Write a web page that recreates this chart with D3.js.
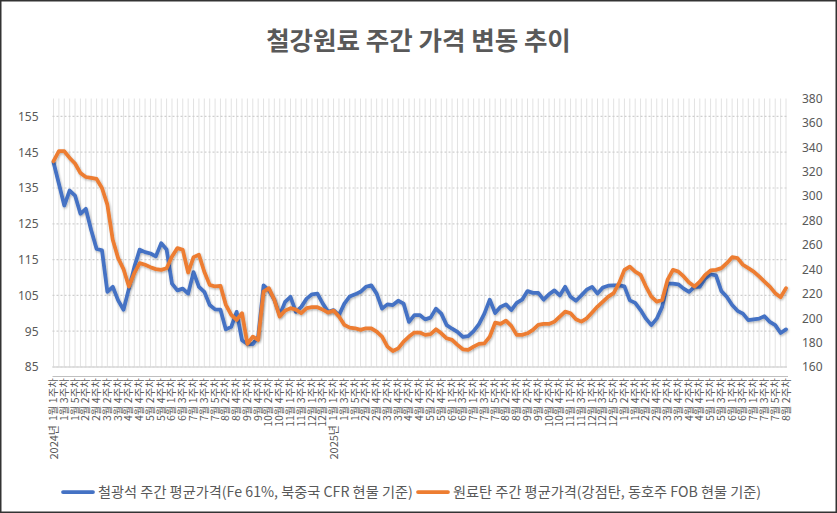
<!DOCTYPE html>
<html>
<head>
<meta charset="utf-8">
<script src="https://cdn.jsdelivr.net/npm/d3@7"></script>
<style>
body { margin: 0; background: #fff; }
text { font-family: "Noto Sans CJK KR", "Noto Sans", sans-serif; fill: #595959; }
</style>
</head>
<body>
<div id="viz"></div>
<script>
var width = 837;
var height = 513;

// weeks per month, by year (2026 runs to Aug 2nd week)
var years = ["2024년", "2025년", ""];
var monthWeeks = [
	[5, 4, 4, 4, 5, 4, 5, 4, 4, 5, 4, 4],
	[5, 4, 4, 4, 5, 4, 5, 4, 4, 5, 4, 5],
	[4, 4, 4, 5, 4, 4, 5, 2]
];

// 철광석 (left axis)
var ironOre = [
	142.2, 136.2, 130.1, 134.3, 132.9, 127.8, 129.2, 123.2, 118.0, 117.6,
	106.0, 107.4, 103.6, 101.0, 106.9, 112.9, 117.8, 117.1, 116.7, 115.9,
	119.6, 117.8, 108.3, 106.4, 106.9, 105.5, 111.5, 107.4, 106.0, 102.3,
	101.1, 101.0, 95.5, 96.2, 100.4, 92.5, 91.4, 91.4, 93.4, 107.8,
	106.4, 103.8, 99.5, 103.2, 104.6, 100.4, 101.8, 104.1, 105.3, 105.5,
	102.7, 100.4, 100.9, 99.5, 102.7, 104.7, 105.3, 106.0, 107.4, 107.8,
	105.5, 101.3, 102.5, 102.3, 103.5, 102.7, 97.6, 99.5, 99.5, 98.3,
	98.8, 101.3, 99.9, 96.7, 95.7, 94.8, 93.4, 93.6, 95.0, 97.0,
	99.9, 103.8, 100.1, 101.8, 102.5, 100.9, 102.9, 103.8, 106.2, 105.7,
	105.7, 103.8, 105.3, 106.4, 105.0, 107.4, 104.6, 103.5, 105.0, 106.6,
	107.4, 105.5, 107.2, 107.7, 107.8, 107.8, 107.5, 103.6, 102.9, 100.9,
	98.5, 96.7, 98.5, 101.8, 108.3, 108.3, 108.1, 106.9, 106.0, 107.4,
	107.4, 109.7, 110.9, 110.6, 106.2, 104.6, 102.3, 100.7, 99.9, 98.1,
	98.3, 98.5, 99.2, 97.6, 96.7, 94.5, 95.5
];

// 원료탄 (right axis)
var cokingCoal = [
	328.6, 336.8, 336.8, 331.3, 326.7, 319.0, 315.7, 314.9, 314.1, 306.7,
	293.0, 264.3, 249.2, 240.2, 225.9, 236.9, 245.1, 243.8, 241.8, 240.2,
	239.6, 240.9, 250.6, 257.4, 256.0, 237.4, 250.0, 252.0, 238.0, 227.3,
	226.0, 226.5, 210.9, 202.7, 198.6, 204.1, 178.9, 184.9, 182.2, 221.8,
	224.6, 215.0, 201.3, 206.2, 208.2, 207.0, 204.1, 208.2, 209.0, 209.0,
	207.0, 204.6, 206.2, 201.3, 194.5, 192.3, 191.7, 190.4, 191.7, 191.7,
	189.0, 184.9, 176.7, 173.1, 175.3, 180.8, 184.9, 188.2, 188.2, 186.3,
	187.0, 190.9, 187.6, 183.5, 182.2, 178.1, 174.5, 174.0, 176.7, 178.9,
	179.4, 184.9, 196.4, 195.3, 198.0, 193.7, 186.3, 186.3, 187.6, 190.4,
	194.5, 195.3, 195.3, 197.2, 201.3, 205.4, 204.1, 199.1, 197.2, 199.9,
	204.6, 209.5, 213.6, 217.7, 220.5, 228.7, 239.6, 242.3, 238.2, 235.5,
	225.9, 217.7, 213.6, 214.9, 231.4, 239.6, 238.2, 234.2, 229.3, 225.9,
	230.0, 235.5, 239.1, 239.6, 241.0, 245.1, 250.0, 249.2, 243.8, 241.0,
	238.2, 234.2, 230.0, 225.9, 220.5, 217.2, 224.6
];

var leftTicks = d3.range(85, 160, 10);
var rightTicks = d3.range(160, 381, 20);

var seriesNames = [
	"철광석 주간 평균가격(Fe 61%, 북중국 CFR 현물 기준)",
	"원료탄 주간 평균가격(강점탄, 동호주 FOB 현물 기준)"
];
var colors = ["#4472C4", "#ED7D31"];

// build category list from the month/week table
var categories = [];
var yearStarts = [];
monthWeeks.forEach(function(months, yi) {
	yearStarts.push({ label: years[yi], index: categories.length });
	months.forEach(function(n, mi) {
		for (var w = 1; w <= n; w++) {
			categories.push((mi + 1) + "월 " + w + "주차");
		}
	});
});

var plotLeft = 53.5, plotRight = 786, plotTop = 98.5, plotBottom = 367;

var x = d3.scalePoint()
	.domain(d3.range(categories.length))
	.range([plotLeft, plotRight]);

var yL = d3.scaleLinear().domain([85, 160]).range([plotBottom, plotTop]);
var yR = d3.scaleLinear().domain([160, 380]).range([plotBottom, plotTop]);

var svg = d3.select("#viz").append("svg")
	.attr("width", width)
	.attr("height", height);

svg.append("rect")
	.attr("x", 0.75).attr("y", 0.75)
	.attr("width", width - 1.5).attr("height", height - 1.5)
	.style("fill", "#FFFFFF")
	.style("stroke", "#333")
	.style("stroke-width", 1.5);

var defs = svg.append("defs");
defs.append("filter").attr("id", "shadow")
	.attr("x", "-5%").attr("y", "-5%").attr("width", "110%").attr("height", "120%")
	.append("feDropShadow")
		.attr("dx", 0.8).attr("dy", 1.2)
		.attr("stdDeviation", 0.8)
		.attr("flood-color", "#000")
		.attr("flood-opacity", 0.3);

svg.append("text")
	.attr("x", width / 2)
	.attr("y", 50)
	.attr("text-anchor", "middle")
	.style("font-size", "25.5px")
	.style("font-weight", "bold")
	.text("철강원료 주간 가격 변동 추이");

// vertical grid, one per week
svg.append("g").selectAll("line")
	.data(d3.range(categories.length))
	.enter().append("line")
		.attr("x1", function(d) { return x(d); })
		.attr("x2", function(d) { return x(d); })
		.attr("y1", plotTop)
		.attr("y2", plotBottom)
		.style("stroke", "#e2e2e2")
		.style("stroke-width", 1);

// horizontal grid on left ticks
svg.append("g").selectAll("line")
	.data(leftTicks)
	.enter().append("line")
		.attr("x1", plotLeft - 1)
		.attr("x2", plotRight + 1)
		.attr("y1", function(d) { return yL(d); })
		.attr("y2", function(d) { return yL(d); })
		.style("stroke", "#cfcfcf")
		.style("stroke-width", 1.2)
		.style("stroke-dasharray", "2,2");

svg.append("line")
	.attr("x1", plotLeft - 1).attr("x2", plotRight + 1)
	.attr("y1", plotBottom).attr("y2", plotBottom)
	.style("stroke", "#d9d9d9").style("stroke-width", 1.5);

svg.append("line")
	.attr("x1", plotLeft - 1).attr("x2", plotRight + 2)
	.attr("y1", 376.5).attr("y2", 376.5)
	.style("stroke", "#bfbfbf").style("stroke-width", 1);

var leftAxis = svg.append("g")
	.attr("transform", "translate(" + (plotLeft - 15) + ",0)")
	.call(d3.axisLeft(yL).tickValues(leftTicks).tickSize(0).tickPadding(0));

var rightAxis = svg.append("g")
	.attr("transform", "translate(" + (plotRight + 16) + ",0)")
	.call(d3.axisRight(yR).tickValues(rightTicks).tickSize(0).tickPadding(0));

[leftAxis, rightAxis].forEach(function(a) {
	a.select(".domain").remove();
	a.selectAll("text")
		.style("font-size", "12px")
		.style("font-family", "\"Noto Sans\", sans-serif")
		.style("fill", "#595959");
});

// category labels, every other week
svg.append("g").selectAll("text")
	.data(d3.range(0, categories.length, 2))
	.enter().append("text")
		.attr("transform", function(d) { return "translate(" + (x(d) + 3.5) + ",378) rotate(-90)"; })
		.attr("text-anchor", "end")
		.style("font-size", "10.5px")
		.text(function(d) { return categories[d]; });

svg.append("g").selectAll("text")
	.data(yearStarts.filter(function(d) { return d.label; }))
	.enter().append("text")
		.attr("transform", function(d) { return "translate(" + (x(d.index) + 4) + ",425) rotate(-90)"; })
		.attr("text-anchor", "end")
		.style("font-size", "11px")
		.text(function(d) { return d.label; });

var line = function(scale) {
	return d3.line()
		.x(function(d, i) { return x(i); })
		.y(function(d) { return scale(d); });
};

svg.append("path")
	.datum(ironOre)
	.attr("d", line(yL))
	.attr("filter", "url(#shadow)")
	.style("fill", "none")
	.style("stroke", colors[0])
	.style("stroke-width", 3.75)
	.style("stroke-linejoin", "round")
	.style("stroke-linecap", "round");

svg.append("path")
	.datum(cokingCoal)
	.attr("d", line(yR))
	.attr("filter", "url(#shadow)")
	.style("fill", "none")
	.style("stroke", colors[1])
	.style("stroke-width", 3.75)
	.style("stroke-linejoin", "round")
	.style("stroke-linecap", "round");

// legend
var legendX = [63, 418];
var legend = svg.append("g").selectAll("g")
	.data(seriesNames)
	.enter().append("g")
		.attr("transform", function(d, i) { return "translate(" + legendX[i] + ",492)"; });

legend.append("line")
	.attr("x1", 0).attr("x2", 30)
	.style("stroke", function(d, i) { return colors[i]; })
	.style("stroke-width", 3.75)
	.style("stroke-linecap", "round");

legend.append("text")
	.attr("x", 35)
	.attr("y", 5)
	.style("font-size", "14.2px")
	.text(function(d) { return d; });
</script>
</body>
</html>
